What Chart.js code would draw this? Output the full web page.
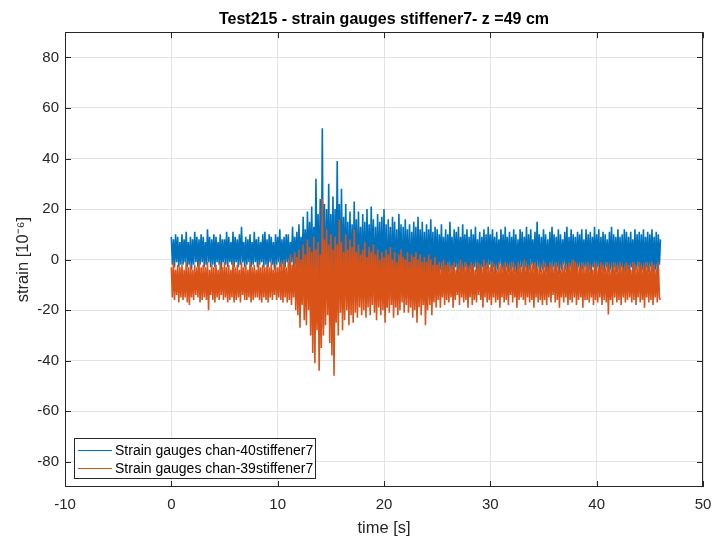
<!DOCTYPE html>
<html>
<head>
<meta charset="utf-8">
<title>Test215 strain gauges</title>
<script src="https://cdn.jsdelivr.net/npm/chart.js@4.4.1/dist/chart.umd.min.js"></script>
<style>
    html, body { margin: 0; padding: 0; background: #ffffff; }
    #wrap { width: 715px; height: 538px; }
</style>
</head>
<body>
<div id="wrap"><canvas id="strainChart" width="715" height="538"></canvas></div>
<script>
// Sampling of the values below: one value every dt seconds, starting at t0
var t0 = 0;
var dt = 0.1;

// Tick labels
var xTicks = [-10, 0, 10, 20, 30, 40, 50];
var yTicks = [-80, -60, -40, -20, 0, 20, 40, 60, 80];

// Series names
var nameChan40 = 'Strain gauges chan-40stiffener7';
var nameChan39 = 'Strain gauges chan-39stiffener7';

// Strain gauge chan-40 (10^-6), one row per second
var chan40 = [
    9, -2, 8, -3, 10, -1, 9, -3, 7, -2,
    10, -2, 8, -1, 11, -3, 7, -2, 9, -4,
    8, -2, 11, -1, 9, -3, 8, -2, 10, -1,
    9, -3, 7, -2, 12, -1, 9, -3, 8, -2,
    10, -3, 9, -1, 7, -2, 10, -4, 8, -1,
    8, -2, 11, -3, 9, -1, 7, -2, 11, -3,
    9, -1, 8, -3, 10, -2, 13, -1, 7, -3,
    9, -2, 8, -1, 10, -3, 7, -2, 11, -1,
    8, -3, 9, -2, 7, -1, 10, -3, 11, -2,
    8, -3, 10, -1, 9, -2, 7, -4, 10, -2,
    9, -1, 12, -3, 8, -2, 9, -3, 10, -1,
    10, -3, 7, -1, 13, -4, 9, -2, 11, -5,
    14, -4, 9, -6, 17, -3, 12, -7, 19, -5,
    15, -8, 21, -6, 13, -10, 32, -9, 18, -12,
    24, -14, 52, -27, 22, -16, 20, -12, 30, -15,
    18, -10, 25, -14, 20, -11, 39, -9, 22, -13,
    28, -12, 17, -10, 22, -8, 15, -13, 19, -9,
    14, -11, 23, -8, 16, -12, 19, -7, 13, -10,
    18, -9, 15, -14, 20, -8, 14, -11, 21, -7,
    16, -12, 13, -9, 18, -10, 15, -8, 17, -13,
    20, -11, 14, -19, 16, -9, 13, -12, 17, -8,
    15, -10, 12, -14, 18, -7, 14, -11, 13, -9,
    16, -8, 12, -10, 14, -13, 11, -7, 15, -9,
    13, -11, 17, -8, 12, -6, 15, -10, 11, -7,
    14, -9, 12, -6, 16, -8, 11, -10, 13, -5,
    12, -7, 10, -4, 14, -6, 9, -5, 12, -8,
    10, -5, 15, -4, 9, -7, 12, -3, 11, -6,
    13, -4, 9, -6, 14, -5, 10, -3, 12, -7,
    9, -4, 12, -6, 10, -3, 13, -5, 8, -4,
    11, -6, 9, -3, 12, -5, 10, -4, 13, -2,
    10, -5, 12, -3, 9, -6, 11, -4, 8, -2,
    12, -4, 10, -6, 13, -3, 9, -5, 11, -4,
    9, -3, 12, -5, 10, -6, 8, -4, 12, -3,
    11, -5, 9, -3, 13, -6, 10, -4, 12, -2,
    8, -4, 11, -6, 15, -3, 10, -5, 9, -4,
    12, -3, 10, -5, 8, -6, 11, -4, 13, -3,
    10, -5, 9, -3, 12, -6, 10, -4, 8, -2,
    11, -4, 13, -6, 9, -3, 12, -5, 10, -4,
    9, -6, 11, -3, 10, -5, 12, -4, 8, -3,
    12, -5, 10, -4, 11, -6, 9, -3, 13, -5,
    10, -3, 12, -6, 9, -4, 11, -5, 10, -3,
    8, -5, 11, -4, 13, -6, 10, -3, 9, -5,
    12, -4, 9, -3, 10, -6, 12, -5, 11, -4,
    9, -6, 11, -3, 8, -5, 12, -4, 10, -3,
    11, -5, 10, -4, 12, -6, 9, -3, 11, -5,
    10, -3, 12, -5, 9, -4, 11, -6, 10, -2,
    8
];

// Strain gauge chan-39 (10^-6), one row per second
var chan39 = [
    -3, -15, -1, -16, -4, -14, -2, -17, -3, -15,
    -2, -16, -4, -15, -1, -17, -3, -18, -2, -15,
    -4, -16, -2, -14, -3, -15, -1, -17, -3, -16,
    -2, -15, -3, -16, -1, -20, -4, -14, -2, -16,
    -3, -17, -2, -15, -4, -16, -1, -14, -3, -16,
    -1, -15, -3, -17, -2, -16, -4, -15, -1, -17,
    -3, -16, -2, -15, -4, -17, -1, -14, -3, -16,
    -2, -16, -4, -15, -1, -17, -3, -16, -2, -15,
    -4, -15, -1, -16, -3, -17, -2, -15, -3, -16,
    -2, -17, -3, -15, -1, -16, -4, -14, -2, -16,
    -3, -15, -1, -16, -2, -17, 0, -15, -3, -17,
    -1, -16, 2, -18, -2, -15, 3, -20, 1, -22,
    4, -27, 0, -18, 6, -24, 2, -26, 8, -20,
    5, -30, 3, -37, 9, -41, 4, -28, 7, -44,
    2, -35, 24, -30, 8, -26, 12, -22, 6, -33,
    10, -38, 4, -46, 9, -25, 6, -30, 16, -21,
    7, -28, 3, -24, 10, -20, 4, -26, 8, -22,
    5, -25, 12, -21, 3, -23, 6, -19, 2, -22,
    4, -20, 7, -23, 1, -19, 5, -22, 3, -18,
    6, -21, 2, -24, 4, -19, 0, -22, 3, -20,
    1, -25, 4, -19, 2, -21, 5, -18, 0, -23,
    3, -19, -1, -22, 2, -20, 4, -17, 1, -21,
    0, -18, 3, -21, -1, -19, 2, -23, 1, -20,
    3, -25, 0, -19, 2, -22, -1, -18, 1, -26,
    -1, -20, 2, -18, 0, -22, -2, -17, 1, -19,
    -2, -16, -1, -19, -3, -15, 0, -18, -2, -16,
    -1, -17, -3, -15, -2, -19, -1, -16, -4, -14,
    -2, -18, 0, -15, -3, -17, -1, -16, -2, -19,
    -3, -15, -1, -18, -2, -16, -4, -17, -1, -14,
    -2, -16, -3, -19, 0, -15, -2, -17, -1, -16,
    -3, -18, -1, -15, -2, -17, -4, -16, -1, -19,
    -2, -15, -3, -17, -1, -16, -2, -18, -3, -14,
    -1, -17, -2, -15, -4, -19, -1, -16, -2, -15,
    -3, -16, 0, -18, -2, -15, -3, -17, -1, -16,
    -2, -19, -1, -15, -3, -17, -2, -16, -4, -18,
    -1, -16, -2, -18, -3, -15, -1, -17, -2, -14,
    -3, -17, -1, -16, -2, -19, -4, -15, -1, -17,
    -2, -15, -3, -18, -1, -16, -2, -17, 0, -15,
    -1, -18, -2, -16, -3, -15, -1, -19, -2, -16,
    -3, -16, -1, -17, -2, -15, -4, -18, -1, -16,
    -2, -17, -3, -15, -1, -18, -2, -16, -3, -17,
    -1, -21.7, -2, -16, -4, -18, -1, -15, -2, -17,
    -3, -16, -1, -18, -2, -15, -3, -17, -1, -16,
    -2, -15, -4, -17, -1, -16, -2, -18, -3, -15,
    -1, -17, -2, -16, -3, -19, -1, -15, -2, -17,
    -3, -16, -1, -18, -2, -15, -4, -17, -1, -15,
    -16
];

var FONT = '"Liberation Sans", Helvetica, Arial, sans-serif';
var AXIS_COLOR = '#262626';

// turn a list of values into {x, y} points on the time axis
function toPoints(values) {
    var pts = [];
    for (var i = 0; i < values.length; i++) {
        pts.push({ x: t0 + i * dt, y: values[i] });
    }
    return pts;
}

// box around the axes, inward ticks and the legend inside the plot
var matlabFrame = {
    id: 'matlabFrame',
    afterDatasetsDraw: function (chart) {
        var ctx = chart.ctx;
        var a = chart.chartArea;
        var sx = chart.scales.x;
        var sy = chart.scales.y;
        ctx.save();
        ctx.strokeStyle = AXIS_COLOR;
        ctx.lineWidth = 1;

        // ticks
        ctx.beginPath();
        xTicks.forEach(function (v) {
            var px = Math.round(sx.getPixelForValue(v)) + 0.5;
            ctx.moveTo(px, a.bottom);
            ctx.lineTo(px, a.bottom - 6);
            ctx.moveTo(px, a.top);
            ctx.lineTo(px, a.top + 6);
        });
        yTicks.forEach(function (v) {
            var py = Math.round(sy.getPixelForValue(v)) + 0.5;
            ctx.moveTo(a.left, py);
            ctx.lineTo(a.left + 6, py);
            ctx.moveTo(a.right, py);
            ctx.lineTo(a.right - 6, py);
        });
        ctx.stroke();

        // box
        ctx.strokeRect(Math.round(a.left) + 0.5, Math.round(a.top) + 0.5,
            Math.round(a.right - a.left) - 1, Math.round(a.bottom - a.top) - 1);

        // legend
        var lx = 74, ly = 438, lw = 241, lh = 40;
        ctx.fillStyle = '#ffffff';
        ctx.fillRect(lx, ly, lw, lh);
        ctx.strokeRect(lx + 0.5, ly + 0.5, lw, lh);
        var rows = [chart.data.datasets[0], chart.data.datasets[1]];
        ctx.font = '14px ' + FONT;
        ctx.textBaseline = 'middle';
        ctx.textAlign = 'left';
        for (var i = 0; i < rows.length; i++) {
            var y = ly + 12 + i * 18;
            ctx.strokeStyle = rows[i].borderColor;
            ctx.beginPath();
            ctx.moveTo(lx + 4, y + 0.5);
            ctx.lineTo(lx + 38, y + 0.5);
            ctx.stroke();
            ctx.fillStyle = '#000000';
            ctx.fillText(rows[i].label, lx + 41, y + 1);
        }
        ctx.restore();
    }
};

var ctx = document.getElementById('strainChart').getContext('2d');
var chart = new Chart(ctx, {
    type: 'line',
    data: {
        datasets: [
            {
                label: nameChan40,
                data: toPoints(chan40),
                borderColor: '#0072BD',
                borderWidth: 1.6,
                pointRadius: 0,
                tension: 0,
                fill: false,
                order: 1
            },
            {
                label: nameChan39,
                data: toPoints(chan39),
                borderColor: '#D95319',
                borderWidth: 1.6,
                pointRadius: 0,
                tension: 0,
                fill: false,
                order: 0 // drawn on top, like in the original
            }
        ]
    },
    options: {
        responsive: false,
        animation: false,
        layout: { padding: { left: 0, right: 12, top: 0, bottom: 0 } },
        plugins: {
            legend: { display: false },
            tooltip: { enabled: false },
            title: {
                display: true,
                text: 'Test215 - strain gauges stiffener7- z =49 cm',
                fullSize: false,
                color: '#000000',
                font: { family: FONT, size: 16, weight: 'bold' },
                padding: { top: 10, bottom: 3 }
            }
        },
        scales: {
            x: {
                type: 'linear',
                min: -10,
                max: 50,
                afterBuildTicks: function (s) {
                    s.ticks = xTicks.map(function (v) { return { value: v }; });
                },
                afterFit: function (s) {
                    s.height = 51;
                    s.paddingLeft = 0;
                    s.paddingRight = 0;
                },
                grid: { color: '#e3e3e3', drawTicks: false },
                border: { display: false },
                ticks: { padding: 9, color: AXIS_COLOR, font: { family: FONT, size: 15 } },
                title: {
                    display: true,
                    text: 'time [s]',
                    color: AXIS_COLOR,
                    font: { family: FONT, size: 16.5 },
                    padding: { top: 1, bottom: 0 }
                }
            },
            y: {
                min: -90,
                max: 90,
                afterBuildTicks: function (s) {
                    s.ticks = yTicks.map(function (v) { return { value: v }; });
                },
                afterFit: function (s) {
                    s.width = 65;
                    s.paddingTop = 0;
                    s.paddingBottom = 0;
                },
                grid: { color: '#e3e3e3', drawTicks: false },
                border: { display: false },
                ticks: { padding: 6, color: AXIS_COLOR, font: { family: FONT, size: 15 } },
                title: {
                    display: true,
                    text: 'strain [10⁻⁶]',
                    color: AXIS_COLOR,
                    font: { family: FONT, size: 16.5 },
                    padding: { top: 14, bottom: 0 }
                }
            }
        }
    },
    plugins: [matlabFrame]
});
</script>
</body>
</html>
